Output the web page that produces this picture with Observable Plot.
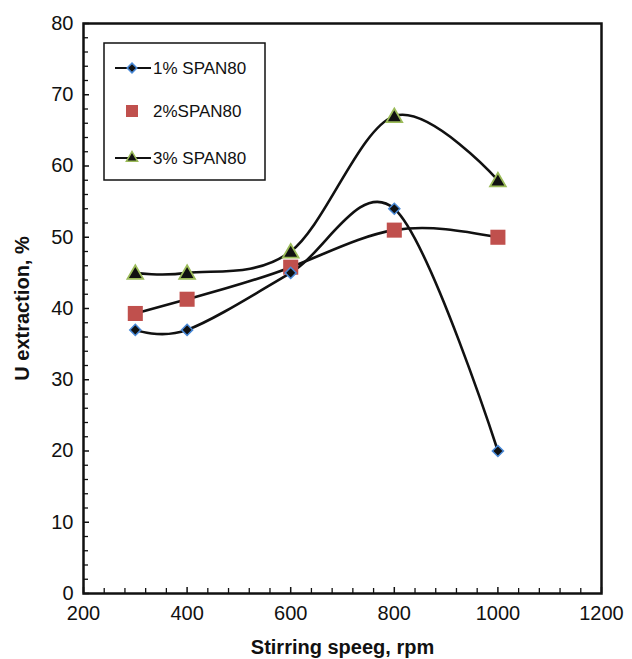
<!DOCTYPE html>
<html><head><meta charset="utf-8">
<script src="https://cdn.jsdelivr.net/npm/d3@7"></script>
<script src="https://cdn.jsdelivr.net/npm/@observablehq/plot@0.6"></script>
<style>
body{margin:0;background:#fff;font-family:"Liberation Sans",Arial,sans-serif;}
#wrap{position:relative;width:632px;height:659px;}
</style></head>
<body><div id="wrap"></div>
<script>
const speeds = [300, 400, 600, 800, 1000];
const span1 = [37, 37, 45, 54, 20];
const span2 = [39.3, 41.3, 45.8, 51, 50];
const span3 = [45, 45, 48, 67, 58];
const seriesNames = ["1% SPAN80", "2%SPAN80", "3% SPAN80"];
const xMajor = [200, 400, 600, 800, 1000, 1200];
const yMajor = [0, 10, 20, 30, 40, 50, 60, 70, 80];
const xMinor = d3.range(200, 1201, 40).filter(v => !xMajor.includes(v));
const yMinor = d3.range(0, 81, 2).filter(v => !yMajor.includes(v));

const d1 = speeds.map((x, i) => ({x, y: span1[i]}));
const d2 = speeds.map((x, i) => ({x, y: span2[i]}));
const d3s = speeds.map((x, i) => ({x, y: span3[i]}));

const W = 632, H = 659, mL = 83, mR = 31, mT = 23, mB = 66;
const ph = H - mT - mB, pw = W - mL - mR;

const chart = Plot.plot({
  width: W, height: H,
  marginLeft: mL, marginRight: mR, marginTop: mT, marginBottom: mB,
  style: {fontFamily: "'Liberation Sans', Arial, sans-serif", fontSize: "20px", background: "white", color: "#111"},
  x: {domain: [200, 1200], label: null},
  y: {domain: [0, 80], label: null},
  marks: [
    Plot.tickX(xMajor, {x: d => d, insetTop: ph - 6, stroke: "#111", strokeWidth: 1.5}),
    Plot.tickX(xMinor, {x: d => d, insetTop: ph - 5, stroke: "#111", strokeWidth: 1.3}),
    Plot.tickY(yMajor, {y: d => d, insetRight: pw - 6, stroke: "#111", strokeWidth: 1.5}),
    Plot.tickY(yMinor, {y: d => d, insetRight: pw - 5, stroke: "#111", strokeWidth: 1.3}),
    Plot.frame({stroke: "#111", strokeWidth: 2.5}),
    Plot.axisX({ticks: xMajor, tickSize: 0, tickPadding: 12, fontSize: 20, tickFormat: d => String(d), label: null}),
    Plot.axisY({ticks: yMajor, tickSize: 0, tickPadding: 10, fontSize: 20, tickFormat: d => String(d), label: null}),
    Plot.line(d2, {x: "x", y: "y", curve: "natural", stroke: "#111", strokeWidth: 2.6}),
    Plot.line(d1, {x: "x", y: "y", curve: "cardinal", tension: 0, stroke: "#111", strokeWidth: 2.6}),
    Plot.line(d3s, {x: "x", y: "y", curve: "cardinal", tension: 0, stroke: "#111", strokeWidth: 2.6}),
    Plot.dot(d2, {x: "x", y: "y", symbol: "square", r: 8.5, fill: "#c0504d", stroke: "none"}),
    Plot.dot(d1, {x: "x", y: "y", symbol: "diamond2", r: 5, fill: "#111", stroke: "#4a8ad8", strokeWidth: 1.5}),
    Plot.dot(d3s, {x: "x", y: "y", symbol: "triangle2", r: 7.5, dy: 1.5, fill: "#111", stroke: "#9bbb59", strokeWidth: 1.8}),
    Plot.text(["Stirring speeg, rpm"], {frameAnchor: "bottom", dy: 60, fontSize: 20, fontWeight: "bold", fill: "#111"}),
    Plot.text(["U extraction, %"], {frameAnchor: "left", textAnchor: "middle", dx: -61, rotate: -90, fontSize: 20, fontWeight: "bold", fill: "#111"})
  ]
});
const wrap = document.getElementById("wrap");
wrap.appendChild(chart);

// legend overlay
const lg = d3.create("svg").attr("width", W).attr("height", H)
  .style("position", "absolute").style("left", "0").style("top", "0")
  .style("font-family", "'Liberation Sans', Arial, sans-serif");
lg.append("rect").attr("x", 104).attr("y", 43).attr("width", 161).attr("height", 137)
  .attr("fill", "white").attr("stroke", "#111").attr("stroke-width", 1.5);
const rowsY = [68, 111, 158];
lg.append("line").attr("x1", 115).attr("x2", 151).attr("y1", rowsY[0]).attr("y2", rowsY[0]).attr("stroke", "#111").attr("stroke-width", 2.2);
lg.append("path").attr("d", d3.symbol(d3.symbolDiamond2, 60)()).attr("transform", `translate(132,${rowsY[0]})`).attr("fill", "#111").attr("stroke", "#4a8ad8").attr("stroke-width", 1.5);
lg.append("rect").attr("x", 126).attr("y", rowsY[1] - 6).attr("width", 12).attr("height", 12).attr("fill", "#c0504d");
lg.append("line").attr("x1", 115).attr("x2", 151).attr("y1", rowsY[2]).attr("y2", rowsY[2]).attr("stroke", "#111").attr("stroke-width", 2.2);
lg.append("path").attr("d", d3.symbol(d3.symbolTriangle2, 90)()).attr("transform", `translate(132,${rowsY[2]})`).attr("fill", "#111").attr("stroke", "#9bbb59").attr("stroke-width", 1.5);
seriesNames.forEach((s, i) => {
  lg.append("text").attr("x", 153).attr("y", rowsY[i]).attr("dy", "0.35em").attr("font-size", 17).attr("fill", "#111").text(s);
});
wrap.appendChild(lg.node());
</script></body></html>
